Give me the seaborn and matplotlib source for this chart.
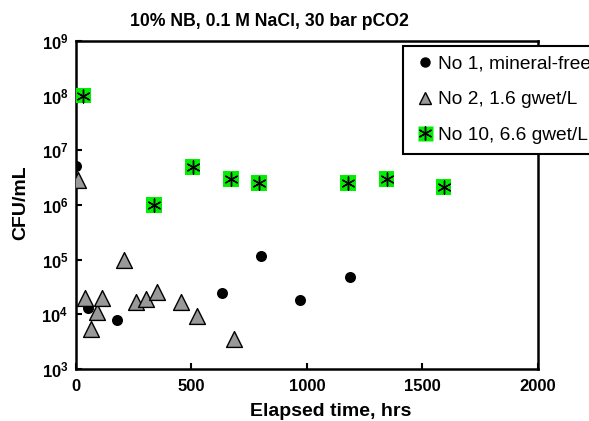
import matplotlib
matplotlib.use("Agg")
import matplotlib.pyplot as plt
import seaborn as sns
import pandas as pd
from matplotlib.lines import Line2D

# ---- data ----
t_no1 = [0, 53, 176, 633, 800, 969, 1185]
cfu_no1 = [5.2e6, 1.3e4, 8.0e3, 2.45e4, 1.17e5, 1.8e4, 4.9e4]

t_no2 = [7, 39, 65, 92, 111, 208, 260, 303, 353, 457, 525, 685]
cfu_no2 = [2.9e6, 2.0e4, 5.4e3, 1.1e4, 2.0e4, 1.0e5, 1.7e4, 1.9e4, 2.6e4, 1.7e4, 9.3e3, 3.5e3]

t_no10 = [32, 338, 505, 673, 791, 1178, 1345, 1592]
cfu_no10 = [1.0e8, 1.0e6, 5.0e6, 3.0e6, 2.5e6, 2.5e6, 3.0e6, 2.1e6]

labels = ["No 1, mineral-free", "No 2, 1.6 gwet/L", "No 10, 6.6 gwet/L"]
x_ticks = [0, 500, 1000, 1500, 2000]
y_exps = [3, 4, 5, 6, 7, 8, 9]

sns.set_theme(style="white")
plt.rcParams["font.family"] = ["Liberation Sans", "DejaVu Sans"]
plt.rcParams["mathtext.fontset"] = "custom"
plt.rcParams["mathtext.rm"] = "Liberation Sans"
plt.rcParams["mathtext.bf"] = "Liberation Sans:bold"
for k in ["text.color", "axes.labelcolor", "xtick.color", "ytick.color", "axes.edgecolor"]:
    plt.rcParams[k] = "black"

fig = plt.figure(figsize=(5.89, 4.21), dpi=100)
ax = fig.add_axes([0.129, 0.1235, 0.784, 0.7795])

df1 = pd.DataFrame({"t": t_no1, "cfu": cfu_no1})
df2 = pd.DataFrame({"t": t_no2, "cfu": cfu_no2})
df3 = pd.DataFrame({"t": t_no10, "cfu": cfu_no10})

sns.scatterplot(data=df1, x="t", y="cfu", ax=ax, marker="o", s=63,
                color="black", edgecolor="black", linewidth=0, zorder=3, legend=False)
sns.scatterplot(data=df2, x="t", y="cfu", ax=ax, marker="^", s=130,
                color="#999999", edgecolor="black", linewidth=1.0, zorder=4, legend=False)
sns.scatterplot(data=df3, x="t", y="cfu", ax=ax, marker="s", s=130,
                color="#00ee00", edgecolor="none", linewidth=0, zorder=5, legend=False)
sns.scatterplot(data=df3, x="t", y="cfu", ax=ax, marker=(6, 2, 0), s=90,
                color="black", linewidth=1.0, zorder=6, legend=False)

ax.set_yscale("log")
ax.set_xlim(0, 2000)
ax.set_ylim(10 ** y_exps[0], 10 ** y_exps[-1])
ax.set_xticks(x_ticks)
ax.set_xticklabels([str(v) for v in x_ticks], fontweight="bold", fontsize=12)
ax.set_yticks([10 ** e for e in y_exps])
ax.set_yticklabels([r"$\mathbf{10^{%d}}$" % e for e in y_exps], fontsize=12)
ax.yaxis.set_minor_locator(matplotlib.ticker.NullLocator())
ax.tick_params(axis="both", which="major", direction="in", length=4.5, width=1.5,
               left=True, bottom=True, top=False, right=False, colors="black")
ax.tick_params(axis="x", pad=7.5)
ax.tick_params(axis="y", pad=5.5)
for sp in ax.spines.values():
    sp.set_linewidth(1.8)
    sp.set_color("black")

ax.set_xlabel("")
ax.set_ylabel("")
fig.text(330.5 / 589, 1 - 411.7 / 421, "Elapsed time, hrs",
         ha="center", va="center", fontweight="bold", fontsize=14)
fig.text(21 / 589, 1 - 203 / 421, "CFU/mL", rotation=90,
         ha="center", va="center", fontweight="bold", fontsize=14)
fig.text(269 / 589, 1 - 21 / 421, "10% NB, 0.1 M NaCl, 30 bar pCO2",
         ha="center", va="center", fontweight="bold", fontsize=12.7)

handles = [
    Line2D([], [], marker="o", linestyle="none", color="black", markersize=6.5),
    Line2D([], [], marker="^", linestyle="none", markerfacecolor="#999999",
           markeredgecolor="black", markeredgewidth=1.0, markersize=8.4),
    (Line2D([], [], marker="s", linestyle="none", markerfacecolor="#00ee00",
            markeredgecolor="none", markersize=10.8),
     Line2D([], [], marker=(6, 2, 0), linestyle="none", color="black",
            markersize=10, markeredgewidth=1.0)),
]
leg = fig.legend(handles, labels, loc="upper left",
                 bbox_to_anchor=(402.7 / 589, 1 - 45.7 / 421),
                 bbox_transform=fig.transFigure, borderaxespad=0,
                 fontsize=13.8, frameon=True, fancybox=False, framealpha=1,
                 edgecolor="black", handlelength=1.3, handletextpad=0.05,
                 labelspacing=0.95, borderpad=0.5)
leg.get_frame().set_linewidth(1.5)

fig.savefig("out.png", dpi=100)
